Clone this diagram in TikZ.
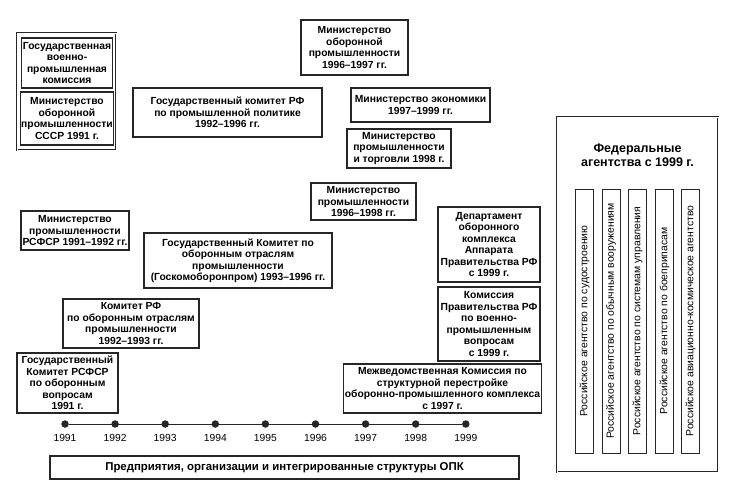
\documentclass[tikz,border=0pt]{standalone}
\usepackage{fontspec}
\setmainfont{Liberation Sans}
\begin{document}
\begin{tikzpicture}[x=1pt,y=-1pt,
  box/.style={draw=black!85, line width=1.1pt, rectangle, align=center, inner sep=1pt,
    font=\bfseries\fontsize{10.3}{11.5}\selectfont},
  frame/.style={draw=black!85, line width=0.7pt, double, double distance=1pt, rectangle},
  agency/.style={draw=black!85, line width=0.9pt, rectangle, rotate=90, minimum width=264pt,
    minimum height=18pt, inner sep=0pt, font=\fontsize{10.4}{11}\selectfont},
  tick/.style={circle, fill=black!85, inner sep=0pt, minimum size=7.5pt},
  yearlbl/.style={font=\fontsize{10.3}{11}\selectfont}]
\useasboundingbox (0,0) rectangle (735,499);

% left column, soviet bodies
\node[frame, minimum width=99pt, minimum height=117pt] (vpkframe) at (66.5,91.5) {};
\node[box, minimum width=90pt, minimum height=50pt] (vpk) at (67,63) {Государственная\\военно-\\промышленная\\комиссия};
\node[box, minimum width=90pt, minimum height=53pt] (mopsssr) at (67,118.5) {Министерство\\оборонной\\промышленности\\СССР 1991 г.};

% ministries and committees
\node[box, minimum width=107pt, minimum height=55pt] (mop) at (354.5,47.5) {Министерство\\оборонной\\промышленности\\1996--1997 гг.};
\node[box, minimum width=189pt, minimum height=49pt] (gkpp) at (227.5,112.5) {Государственный комитет РФ\\по промышленной политике\\1992--1996 гг.};
\node[box, minimum width=139pt, minimum height=34pt] (minek) at (420.5,105) {Министерство экономики\\1997--1999 гг.};
\node[box, minimum width=104pt, minimum height=39pt] (minpt) at (399,148.5) {Министерство\\промышленности\\и торговли 1998 г.};
\node[box, minimum width=105pt, minimum height=37pt] (minp) at (363.5,201.5) {Министерство\\промышленности\\1996--1998 гг.};
\node[box, minimum width=108pt, minimum height=39pt] (minprsfsr) at (75,230.5) {Министерство\\промышленности\\РСФСР 1991--1992 гг.};
\node[box, minimum width=188pt, minimum height=55pt] (gkop) at (238,260.5) {Государственный Комитет по\\оборонным отраслям\\промышленности\\(Госкомоборонпром) 1993--1996 гг.};
\node[box, minimum width=136pt, minimum height=49pt] (krf) at (131,323.5) {Комитет РФ\\по оборонным отраслям\\промышленности\\1992--1993 гг.};
\node[box, minimum width=101pt, minimum height=60pt] (gkrsfsr) at (67.5,383) {Государственный\\Комитет РСФСР\\по оборонным\\вопросам\\1991 г.};

% government bodies since 1997/1999
\node[box, minimum width=102pt, minimum height=75pt] (dep) at (489,244.5) {Департамент\\оборонного\\комплекса\\Аппарата\\Правительства РФ\\с 1999 г.};
\node[box, minimum width=102pt, minimum height=74pt] (kom) at (489,324) {Комиссия\\Правительства РФ\\по военно-\\промышленным\\вопросам\\с 1999 г.};
\node[box, minimum width=195pt, minimum height=49pt] (mvk) at (442.5,388.5) {Межведомственная Комиссия по\\структурной перестройке\\оборонно-промышленного комплекса\\с 1997 г.};

% federal agencies
\node[frame, minimum width=161pt, minimum height=355pt] (fed) at (637.5,294.5) {};
\node[font=\bfseries\fontsize{12.5}{14.5}\selectfont, align=center] (fedtitle) at (637.5,155) {Федеральные\\агентства с 1999 г.};
\foreach \x/\n/\t in {584.5/sud/Российское агентство по судостроению,
    611/obv/Российское агентство по обычным вооружениям,
    637.5/sys/Российское агентство по системам управления,
    664.5/boe/Российское агентство по боеприпасам,
    690.5/avk/Российское авиационно-космическое агентство}
  \node[agency] (\n) at (\x,321) {\t};

% timeline
\foreach \i [evaluate=\i as \xx using 65+50.1*(\i-1991)] in {1991,...,1999} {
  \node[tick] (y\i) at (\xx,424) {};
  \node[yearlbl] (l\i) at (\xx,438) {\i};
}
\draw[line width=1pt, black!85] (y1991) -- (y1999);

\node[box, minimum width=469pt, minimum height=23pt, font=\bfseries\fontsize{11.4}{12}\selectfont] (opk) at (284.5,467.5) {Предприятия, организации и интегрированные структуры ОПК};
\end{tikzpicture}
\end{document}
